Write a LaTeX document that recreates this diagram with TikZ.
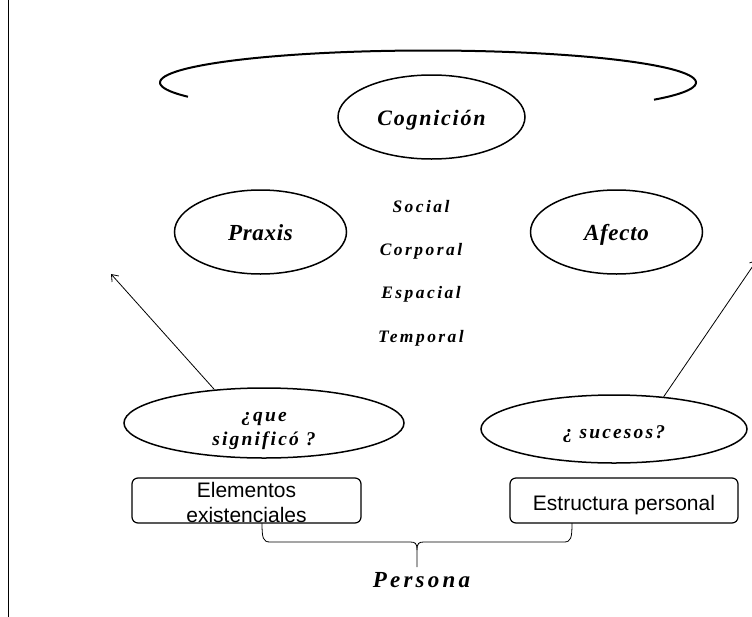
\documentclass[tikz,border=0pt]{standalone}
\usepackage{fontspec}
\setmainfont{Liberation Serif}
\setsansfont{Liberation Sans}
\usetikzlibrary{shapes.geometric,arrows.meta}
\begin{document}
\begin{tikzpicture}[x=1pt,y=-1pt,
  ell/.style={draw,ellipse,line width=1.5pt,inner sep=0pt,text depth=0pt},
  rbox/.style={draw,rectangle,rounded corners=6pt,line width=1.2pt,inner sep=0pt,
    font=\fontsize{21}{25}\selectfont\sffamily},
  lblA/.style={font=\fontsize{23}{26}\selectfont\bfseries\itshape\addfontfeature{LetterSpace=3}},
  lblB/.style={font=\fontsize{22}{24}\selectfont\bfseries\itshape\addfontfeature{LetterSpace=8}},
  lblC/.style={font=\fontsize{17.5}{20}\selectfont\bfseries\itshape\addfontfeature{LetterSpace=14}},
  lblD/.style={font=\fontsize{19.5}{24}\selectfont\bfseries\itshape\addfontfeature{LetterSpace=11}},
  lblE/.style={font=\fontsize{23}{26}\selectfont\bfseries\itshape\addfontfeature{LetterSpace=14}},
  thin/.style={line width=0.8pt},
  arr/.style={thin,-{Straight Barb[length=6pt,width=9pt]}}]
\useasboundingbox (0,0) rectangle (752,616);
% left vertical rule
\draw[line width=1pt] (8,-2) -- (8,618);
% big top arc
\draw[line width=2pt] plot[domain=153.6:392.5,samples=90,smooth]
  ({428+268*cos(\x)},{82.5+32*sin(\x)});
% ellipses
\node[ell,lblB,minimum width=187,minimum height=84,text height=16pt] (cog) at (431.5,117) {Cognición};
\node[ell,lblA,minimum width=172,minimum height=84,text height=16pt] (praxis) at (260.5,232) {Praxis};
\node[ell,lblA,minimum width=172,minimum height=84,text height=16pt] (afecto) at (616.5,232) {Afecto};
\node[ell,minimum width=280,minimum height=70,
  label={[lblD,align=center,yshift=-8pt]center:¿que\\significó ?}] (que) at (264,423) {};
\node[ell,lblD,minimum width=266,minimum height=68,text height=18pt] (suc) at (614,429) {¿ sucesos?};
% middle words
\node[lblC,anchor=base] (social) at (421,212) {Social};
\node[lblC,anchor=base] (corporal) at (421,255.3) {Corporal};
\node[lblC,anchor=base] (espacial) at (421,298.6) {Espacial};
\node[lblC,anchor=base] (temporal) at (421,342) {Temporal};
% boxes
\node[rbox,minimum width=229,minimum height=45,
  label={[font=\fontsize{21}{25}\selectfont\sffamily,align=center,yshift=-2pt]center:Elementos\\existenciales}] (elem) at (246.5,500.5) {};
\node[rbox,minimum width=228,minimum height=45,text height=19pt,text depth=0pt] (estr) at (624,500.5) {Estructura personal};
% arrows
\coordinate (ltip) at (111,274);
\coordinate (rtip) at (757,260);
\draw[arr] (que.146) -- (ltip);
\draw[arr] (suc.33) -- (rtip);
% brace
\coordinate (bl) at (262,523);
\coordinate (br) at (572,523);
\coordinate (bt) at (417,567);
\draw[thin] (bl) .. controls (262,538) and (263,542) .. (270,542) -- (410,542)
  .. controls (415,542) and (417,543) .. (417,550) -- (bt);
\draw[thin] (br) .. controls (572,538) and (571,542) .. (564,542) -- (424,542)
  .. controls (419,542) and (417,543) .. (417,550);
% Persona
\node[lblE,anchor=base] (persona) at (421.5,587) {Persona};
\end{tikzpicture}
\end{document}
